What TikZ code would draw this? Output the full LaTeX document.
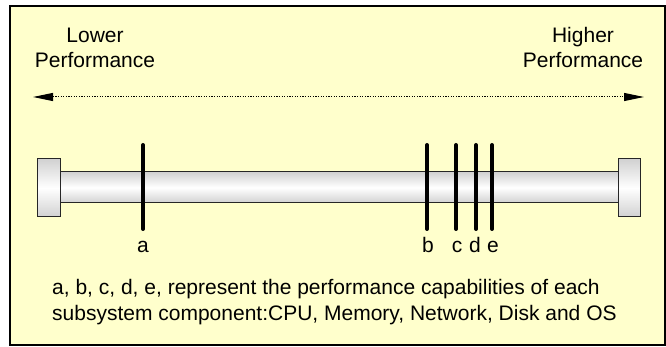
\documentclass[tikz,border=0pt]{standalone}
\usepackage{fontspec}
\setmainfont{Liberation Sans}
\usetikzlibrary{arrows.meta}
\definecolor{notepaper}{RGB}{255,255,204}

\tikzset{
  rodpart/.style={draw=black!85, line width=1pt, top color=black!18, bottom color=black!18, middle color=white},
  perfbar/.style={line width=4pt, line cap=round},
  lbl/.style={inner sep=0pt, font=\fontsize{21}{25}\selectfont},
  perftip/.tip={Triangle[length=20pt,width=8pt]},
}

\begin{document}
\begin{tikzpicture}[x=1pt,y=-1pt]
  \useasboundingbox (0,0) rectangle (666,347);
  \draw[line width=1.6pt, fill=notepaper] (10,6) rectangle (665,345);

  % the two ends of the scale (base = last line)
  \node[lbl, align=center, anchor=base] (lower) at (95,68) {Lower\\Performance};
  \node[lbl, align=center, anchor=base] (higher) at (583,68) {Higher\\Performance};
  \coordinate (lowEnd) at (33,97);
  \coordinate (highEnd) at (644,97);
  \draw[line width=1pt, dash pattern=on 1.2pt off 1.4pt, perftip-perftip] (lowEnd) -- (highEnd);

  % rod and end caps
  \draw[rodpart] (60,172) rectangle (618,203);
  \draw[rodpart] (37,159) rectangle (60,217);
  \draw[rodpart] (618,159) rectangle (640,217);

  % one bar per subsystem
  \foreach \x/\lx/\name in {143/143/a,427/428/b,456/457/c,476/475/d,492/493/e}{
    \draw[perfbar] (\x,145) -- (\x,229);
    \node[lbl, anchor=base] (mark-\name) at (\lx,252) {\name};
  }

  \node[lbl, align=left, anchor=base west, font=\fontsize{21}{26}\selectfont] (note) at (52,320)
    {a, b, c, d, e, represent the performance capabilities of each\\subsystem component:CPU, Memory, Network, Disk and OS};
\end{tikzpicture}
\end{document}
